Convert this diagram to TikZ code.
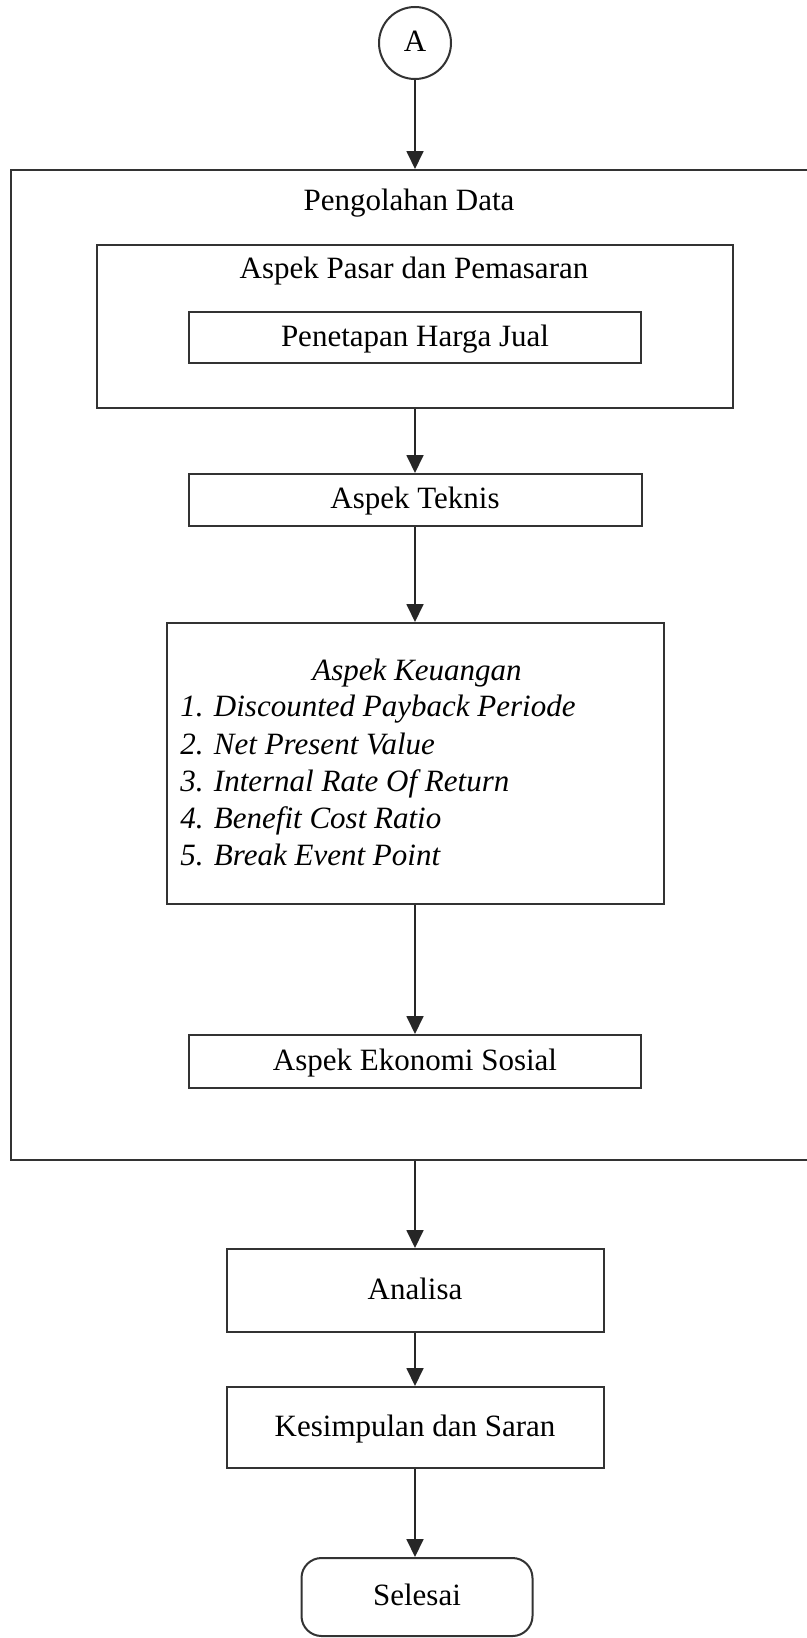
\documentclass[tikz,border=0pt]{standalone}
\usepackage{fontspec}
\setmainfont{Liberation Serif}
\usetikzlibrary{arrows.meta}
\begin{document}
\begin{tikzpicture}[x=0.5pt,y=-0.5pt,
  txt/.style={inner sep=0pt, font=\fontsize{15.5}{18}\selectfont, text height=10.5pt, text depth=2pt},
  box/.style={txt, draw=black!80, line width=1pt, rectangle},
  arr/.style={-{Triangle[length=9pt,width=8.5pt]}, line width=0.9pt, draw=black!85}
]
\clip (0,0) rectangle (807,1638);
\fill[white] (0,0) rectangle (807,1638);

\node[box, circle, minimum size=36pt] (A) at (415,43) {A};

\node[box, minimum width=409.5pt, minimum height=495pt] (outer) at (420.5,665) {};
\node[txt] (outert) at (409,202) {Pengolahan Data};

\node[box, minimum width=318pt, minimum height=81.5pt] (pasar) at (415,326.5) {};
\node[txt] (pasart) at (414,270) {Aspek Pasar dan Pemasaran};
\node[box, minimum width=226pt, minimum height=25.5pt] (harga) at (415,337.5) {Penetapan Harga Jual};

\node[box, minimum width=226.5pt, minimum height=26pt] (teknis) at (415,500) {Aspek Teknis};

\node[box, minimum width=248.5pt, minimum height=140.5pt] (keu) at (415,763.5) {};
\node[txt, font=\fontsize{15.5}{18}\selectfont\itshape] (keut) at (417,672) {Aspek Keuangan};
\begin{scope}[every node/.style={txt, anchor=west, font=\fontsize{15.5}{18}\selectfont\itshape}]
\node (k1) at (180,708) {1. Discounted Payback Periode};
\node (k2) at (180,746) {2. Net Present Value};
\node (k3) at (180,783) {3. Internal Rate Of Return};
\node (k4) at (180,820) {4. Benefit Cost Ratio};
\node (k5) at (180,857) {5. Break Event Point};
\end{scope}

\node[box, minimum width=226pt, minimum height=26.5pt] (eko) at (415,1061.5) {Aspek Ekonomi Sosial};

\node[box, minimum width=188.5pt, minimum height=41.5pt] (analisa) at (415,1290.5) {Analisa};
\node[box, minimum width=188.5pt, minimum height=40.5pt] (kes) at (415,1427.5) {Kesimpulan dan Saran};
\node[box, rounded corners=10pt, minimum width=115.5pt, minimum height=39pt] (sel) at (417,1597) {Selesai};

\coordinate (outtop) at (A |- outer.north);
\coordinate (outbot) at (A |- outer.south);
\draw[arr] (A) -- (outtop);
\draw[arr] (pasar) -- (teknis);
\draw[arr] (teknis) -- (keu);
\draw[arr] (keu) -- (eko);
\draw[arr] (outbot) -- (analisa);
\draw[arr] (analisa) -- (kes);
\draw[arr] (kes) -- (kes |- sel.north);
\end{tikzpicture}
\end{document}
